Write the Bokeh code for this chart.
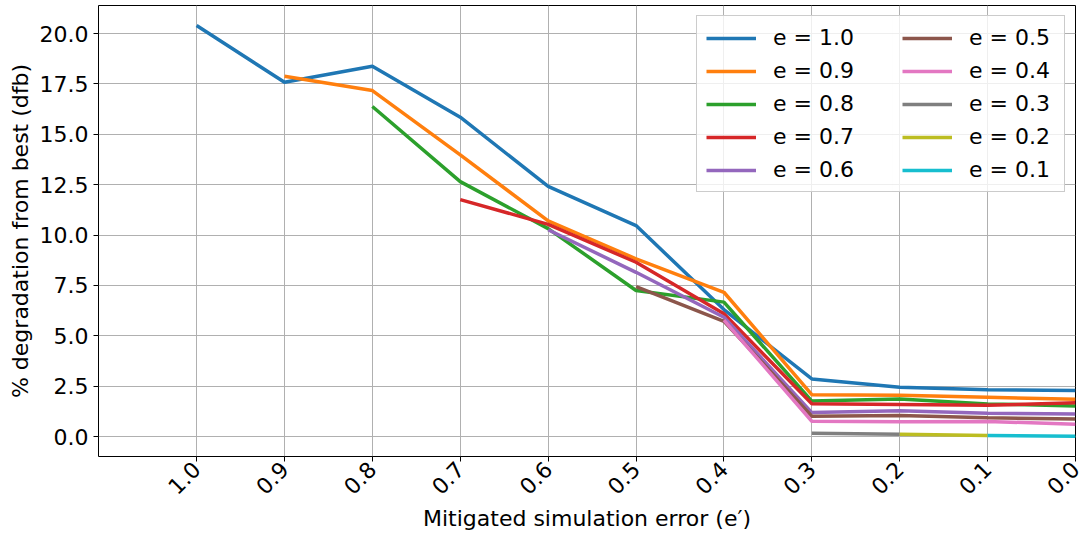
import math
from bokeh.plotting import figure
from bokeh.models import Range1d, FixedTicker, PrintfTickFormatter, Legend, LegendItem
from bokeh.embed import file_html
from bokeh.resources import INLINE

# Mitigated simulation error e' (x axis, reversed)
XS = [1.0, 0.9, 0.8, 0.7, 0.6, 0.5, 0.4, 0.3, 0.2, 0.1, 0.0]
Y_TICKS = [0.0, 2.5, 5.0, 7.5, 10.0, 12.5, 15.0, 17.5, 20.0]

# series: e value -> degradation (%) starting at x == e
SERIES_E = [1.0, 0.9, 0.8, 0.7, 0.6, 0.5, 0.4, 0.3, 0.2, 0.1]
e10 = [20.4, 17.58, 18.38, 15.85, 12.41, 10.47, 6.3, 2.86, 2.45, 2.32, 2.28]
e09 = [17.88, 17.17, 13.98, 10.7, 8.82, 7.16, 2.08, 2.05, 1.95, 1.85]
e08 = [16.38, 12.65, 10.32, 7.25, 6.67, 1.76, 1.86, 1.62, 1.52]
e07 = [11.76, 10.53, 8.65, 6.09, 1.63, 1.59, 1.55, 1.68]
e06 = [10.26, 8.15, 5.92, 1.19, 1.28, 1.16, 1.12]
e05 = [7.44, 5.72, 1.01, 1.04, 0.93, 0.87]
e04 = [5.78, 0.76, 0.73, 0.75, 0.61]
e03 = [0.16, 0.11]
e02 = [0.11, 0.05]
e01 = [0.05, 0.01]
SERIES_VALUES = [e10, e09, e08, e07, e06, e05, e04, e03, e02, e01]
COLORS = ["#1f77b4", "#ff7f0e", "#2ca02c", "#d62728", "#9467bd",
          "#8c564b", "#e377c2", "#7f7f7f", "#bcbd22", "#17becf"]

X_LABEL = "Mitigated simulation error (e\u2032)"
Y_LABEL = "% degradation from best (dfb)"

FONT = "DejaVu Sans"

p = figure(width=1092, height=533, output_backend="svg", toolbar_location=None,
           x_range=Range1d(1.1116, 0.0), y_range=Range1d(-0.99, 21.39),
           min_border_left=98, min_border_right=17, min_border_top=5, min_border_bottom=77)

p.outline_line_color = "#000000"
p.outline_line_width = 1
p.background_fill_color = "white"
p.border_fill_color = "white"

renderers = []
for e, vals, c in zip(SERIES_E, SERIES_VALUES, COLORS):
    start = XS.index(e)
    xs = XS[start:start + len(vals)]
    r = p.line(xs, vals, line_color=c, line_width=3.5)
    renderers.append((f"e = {e:.1f}", r))

# axes
p.xaxis.ticker = FixedTicker(ticks=XS)
p.xaxis.formatter = PrintfTickFormatter(format="%.1f")
p.xaxis.major_label_orientation = math.pi / 4
p.yaxis.ticker = FixedTicker(ticks=Y_TICKS)
p.yaxis.formatter = PrintfTickFormatter(format="%.1f")
for ax in (p.xaxis[0], p.yaxis[0]):
    ax.axis_line_color = None
    ax.major_tick_out = 5
    ax.major_tick_in = 0
    ax.minor_tick_line_color = None
    ax.major_tick_line_color = "#000000"
    ax.major_label_text_font = FONT
    ax.major_label_text_font_size = "22px"
    ax.major_label_text_color = "#000000"
    ax.axis_label_text_font = FONT
    ax.axis_label_text_font_size = "22px"
    ax.axis_label_text_font_style = "normal"
    ax.axis_label_text_color = "#000000"
p.xaxis.axis_label = X_LABEL
p.yaxis.axis_label = Y_LABEL
p.xaxis.major_label_standoff = 4
p.xaxis.axis_label_standoff = 1
p.yaxis.major_label_standoff = 5
p.yaxis.axis_label_standoff = 4

p.xgrid.grid_line_color = "#b0b0b0"
p.ygrid.grid_line_color = "#b0b0b0"
p.xgrid.grid_line_width = 1
p.ygrid.grid_line_width = 1


def make_legend(items, width, border_alpha, bg_alpha):
    lg = Legend(items=[LegendItem(label=l, renderers=[r]) for l, r in items], location="top_right")
    lg.label_text_font = FONT
    lg.label_text_font_size = "22px"
    lg.label_text_color = "#000000"
    lg.glyph_width = 50
    lg.glyph_height = 20
    lg.label_height = 25
    lg.label_width = width
    lg.label_standoff = 17
    lg.spacing = 8
    lg.padding = 9
    lg.margin = 10
    lg.border_line_color = "#cccccc"
    lg.border_line_width = 1
    lg.border_line_alpha = border_alpha
    lg.background_fill_color = "white"
    lg.background_fill_alpha = bg_alpha
    return lg


p.add_layout(make_legend(renderers[:5], 282, 1.0, 0.8), "center")
p.add_layout(make_legend(renderers[5:], 86, 0.01, 0.0), "center")

open("out.html", "w").write(file_html(p, INLINE))
